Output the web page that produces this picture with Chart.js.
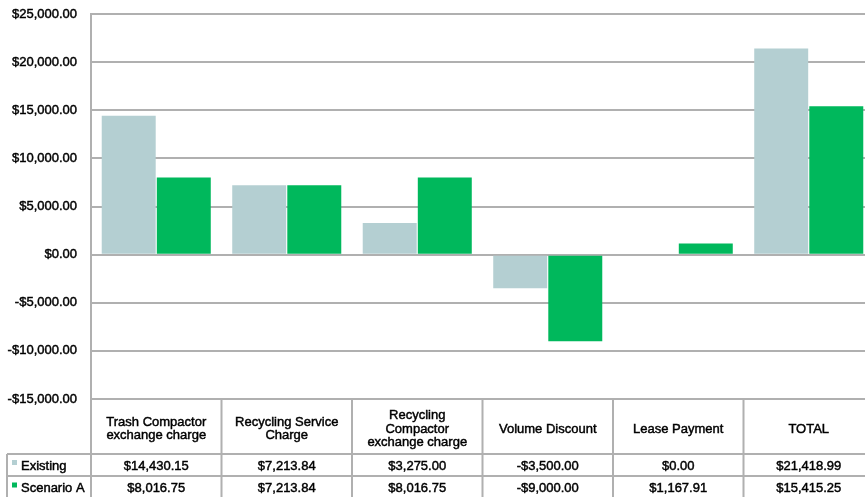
<!DOCTYPE html>
<html><head><meta charset="utf-8">
<script src="https://cdn.jsdelivr.net/npm/chart.js@4/dist/chart.umd.min.js"></script>
<style>
html,body{margin:0;padding:0;overflow:hidden;background:#fff;width:865px;height:497px}
#wrap{position:relative;width:874px;height:497px}
</style></head>
<body><div id="wrap"><canvas id="c" width="874" height="497"></canvas></div>
<script>
const categories = [
  ["Trash Compactor","exchange charge"],
  ["Recycling Service","Charge"],
  ["Recycling","Compactor","exchange charge"],
  ["Volume Discount"],
  ["Lease Payment"],
  ["TOTAL"]
];
const seriesNames = ["Existing","Scenario A"];
const existing  = [14430.15, 7213.84, 3275.00, -3500.00, 0.00, 21418.99];
const scenarioA = [8016.75, 7213.84, 8016.75, -9000.00, 1167.91, 15415.25];
const yMin = -15000, yMax = 25000, yStep = 5000;

const COLORS = ['#b4cfd2', '#00b85c'];
const GRID = '#b0b0b0';
const TEXT = '#000';
const FONT = '"Liberation Sans", Arial, sans-serif';
const STROKE_W = 0.45;

function money(v){
  const s = Math.abs(v).toLocaleString('en-US',{minimumFractionDigits:2,maximumFractionDigits:2});
  return (v < 0 ? '-$' : '$') + s;
}

function txt(ctx, t, x, y){
  ctx.fillText(t, x, y);
  ctx.strokeText(t, x, y);
}

const tablePlugin = {
  id: 'dataTable',
  afterDraw(chart){
    const ctx = chart.ctx, xs = chart.scales.x, a = chart.chartArea;
    const n = categories.length;
    const cw = (a.right - a.left) / n;
    const top = a.bottom, hdrB = top + 55, r1B = hdrB + 22, r2B = r1B + 23;
    const legL = 7;
    ctx.save();
    ctx.strokeStyle = GRID; ctx.lineWidth = 2;
    ctx.beginPath();
    ctx.moveTo(legL, hdrB); ctx.lineTo(a.right, hdrB);
    ctx.moveTo(legL, r1B); ctx.lineTo(a.right, r1B);
    ctx.moveTo(legL, r2B); ctx.lineTo(a.right, r2B);
    ctx.moveTo(legL, hdrB); ctx.lineTo(legL, r2B);
    for (let i = 0; i <= n; i++) {
      const x = a.left + i * cw;
      ctx.moveTo(x, top); ctx.lineTo(x, r2B);
    }
    ctx.stroke();

    ctx.fillStyle = TEXT; ctx.strokeStyle = TEXT; ctx.lineWidth = STROKE_W;
    ctx.font = '13px ' + FONT;
    ctx.textAlign = 'center'; ctx.textBaseline = 'middle';
    const lh = 13.5;
    categories.forEach((lines, i) => {
      const cx = xs.getPixelForValue(i);
      const cy = (top + hdrB) / 2 + 2.5;
      lines.forEach((t, k) => {
        txt(ctx, t, cx, cy + (k - (lines.length - 1) / 2) * lh);
      });
    });
    const rows = [existing, scenarioA];
    const rowY = [(hdrB + r1B) / 2 + 1, (r1B + r2B) / 2 + 1];
    rows.forEach((vals, r) => {
      vals.forEach((v, i) => {
        txt(ctx, money(v), xs.getPixelForValue(i), rowY[r]);
      });
      ctx.fillStyle = COLORS[r];
      ctx.fillRect(12, rowY[r] - 6, 5, 5);
      ctx.fillStyle = TEXT;
      ctx.textAlign = 'left';
      txt(ctx, seriesNames[r], 21, rowY[r]);
      ctx.textAlign = 'center';
    });
    ctx.restore();
  }
};

new Chart(document.getElementById('c'), {
  type: 'bar',
  data: {
    labels: categories.map(c => c.join(' ')),
    datasets: [
      { label: seriesNames[0], data: existing, backgroundColor: COLORS[0],
        categoryPercentage: 0.844, barPercentage: 0.98 },
      { label: seriesNames[1], data: scenarioA, backgroundColor: COLORS[1],
        categoryPercentage: 0.844, barPercentage: 0.98 }
    ]
  },
  options: {
    responsive: false,
    animation: false,
    devicePixelRatio: 1,
    layout: { padding: { top: 14, bottom: 98, left: 0, right: 0 } },
    plugins: { legend: { display: false }, tooltip: { enabled: false }, title: { display: false } },
    scales: {
      x: { display: false },
      y: {
        min: yMin, max: yMax,
        afterFit(s){ s.width = 91; s.paddingTop = 0; s.paddingBottom = 0; },
        ticks: { stepSize: yStep, padding: 14, color: TEXT,
                 textStrokeColor: TEXT, textStrokeWidth: STROKE_W,
                 font: { family: FONT, size: 13 },
                 callback: v => money(v) },
        grid: { color: GRID, lineWidth: 2, drawTicks: false },
        border: { display: true, color: GRID, width: 2 }
      }
    }
  },
  plugins: [tablePlugin]
});
</script>
</body></html>
